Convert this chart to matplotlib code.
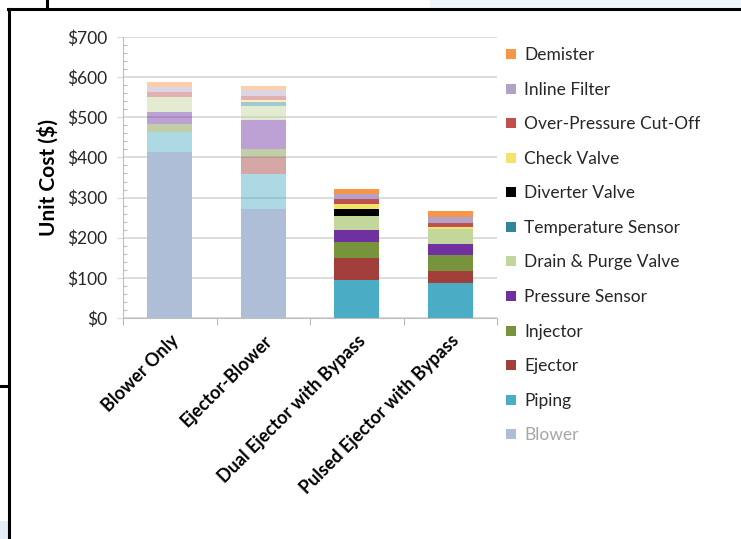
import matplotlib
matplotlib.use("Agg")
import matplotlib.pyplot as plt
from matplotlib.lines import Line2D
from matplotlib.patches import Rectangle
from matplotlib.ticker import MultipleLocator, FixedLocator
import numpy as np

plt.rcParams.update({
    "font.family": ["Lato", "DejaVu Sans"],
    "text.color": "#262626",
})

configs = ["Blower Only", "Ejector-Blower",
           "Dual Ejector with Bypass", "Pulsed Ejector with Bypass"]

# stack order, bottom to top
components = ["Blower", "Piping", "Ejector", "Injector", "Pressure Sensor",
              "Drain & Purge Valve", "Temperature Sensor", "Diverter Valve",
              "Check Valve", "Over-Pressure Cut-Off", "Inline Filter", "Demister"]
colors = ["#AEBED6", "#4BACC6", "#A23F3B", "#77933C", "#7030A0",
          "#C3D69B", "#31859C", "#000000", "#F4E36B", "#C0504D",
          "#B3A2C7", "#F79646"]

# unit cost ($) per component, one list per configuration
blower_only = [413, 51, 0, 20, 28, 38, 0, 0, 0, 13, 12, 13]
ejector_blower = [272, 87, 42, 20, 73, 35, 8, 0, 5, 10, 15, 12]
dual_ejector = [0, 94, 55, 41, 28, 36, 0, 18, 12, 12, 12, 13]
pulsed_ejector = [0, 86, 30, 40, 28, 37, 0, 0, 6, 10, 15, 15]

# the two blower-based concepts are drawn washed out
bar_alpha = [0.45, 0.45, 1.0, 1.0]

values = np.array([blower_only, ejector_blower, dual_ejector, pulsed_ejector])

W, H = 741, 539
fig = plt.figure(figsize=(W / 100, H / 100), dpi=100)
fig.patch.set_facecolor("white")

# page frame around the chart object
fig.add_artist(Rectangle((430 / W, 1 - 8 / H), 1, 8 / H, color="#EEF5FC", lw=0))
fig.add_artist(Rectangle((0, 0), 8 / W, 18 / H, color="#E4EEF8", lw=0))
fig.add_artist(Line2D([8 / W, 1], [1 - 9 / H] * 2, color="black", lw=2.2))
fig.add_artist(Line2D([9 / W] * 2, [0, 1 - 9 / H], color="black", lw=2.2))
fig.add_artist(Line2D([47 / W] * 2, [1, 1 - 8 / H], color="black", lw=2.2))
fig.add_artist(Line2D([0, 8 / W], [1 - 386 / H] * 2, color="black", lw=2.2))

ax = fig.add_axes([123 / W, 1 - 318 / H, (497 - 123) / W, (318 - 37) / H])
x = np.arange(len(configs))
bottom = np.zeros(len(configs))
for j, (name, col) in enumerate(zip(components, colors)):
    for i in range(len(configs)):
        a = 1.0 if name == "Blower" else bar_alpha[i]
        ax.bar(x[i], values[i, j], 0.48, bottom=bottom[i], color=col,
               alpha=a, lw=0, zorder=3)
    bottom += values[:, j]

ax.set_xlim(-0.5, 3.5)
ax.set_ylim(0, 700)
ax.yaxis.set_major_locator(MultipleLocator(100))
ax.yaxis.set_minor_locator(MultipleLocator(20))
ax.set_yticklabels([f"${v:.0f}" for v in ax.get_yticks()])
ax.grid(axis="y", color="#D9D9D9", lw=1.3, zorder=0)
ax.tick_params(axis="y", which="major", direction="out", length=4.5,
               color="#D9D9D9", labelsize=12.5, labelcolor="#262626", pad=7)
ax.tick_params(axis="y", which="minor", direction="in", length=3,
               color="#BFBFBF", width=0.8)

ax.set_xticks(x)
ax.set_xticklabels(configs, rotation=45, ha="right", rotation_mode="anchor",
                   fontsize=13, fontweight="bold")
ax.xaxis.set_minor_locator(FixedLocator([-0.5, 0.5, 1.5, 2.5, 3.5]))
ax.tick_params(axis="x", which="major", length=0, pad=10)
ax.tick_params(axis="x", which="minor", direction="out", length=5,
               color="#A6A6A6")

for s in ("top", "right"):
    ax.spines[s].set_visible(False)
for s in ("left", "bottom"):
    ax.spines[s].set_color("#BFBFBF")

ax.set_ylabel("Unit Cost ($)", fontsize=15, fontweight="bold", labelpad=6)

handles = [Line2D([], [], marker="s", ls="", ms=7.5, color=c, mew=0)
           for c in colors[::-1]]
leg = fig.legend(handles, components[::-1], loc="upper left",
                 bbox_to_anchor=(504 / W, 1 - 47 / H), frameon=False,
                 fontsize=12.5, labelspacing=1.07, handlelength=0.8,
                 handletextpad=0.35, borderaxespad=0, borderpad=0)
leg.get_texts()[-1].set_color("#A6A6A6")

fig.savefig("out.png", dpi=100, facecolor="white")
